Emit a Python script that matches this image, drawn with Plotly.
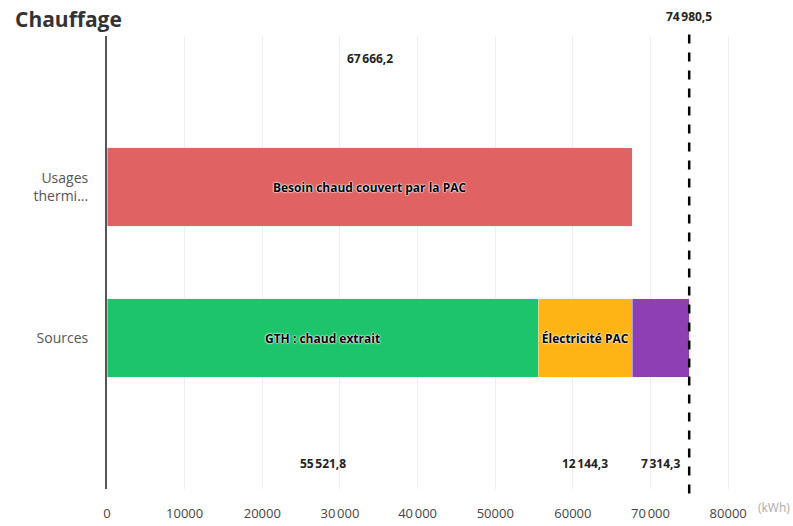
import plotly.graph_objects as go

# Bilan chauffage (kWh)
categories = ["Usages<br>thermi...", "Sources"]
cat_pos = [1, 0]

besoin_pac = 67666.2          # Besoin chaud couvert par la PAC
gth_extrait = 55521.8         # GTH : chaud extrait
elec_pac = 12144.3            # Électricité PAC
complement = 7314.3           # troisième part des sources
total_sources = 74980.5

x_ticks = [0, 10000, 20000, 30000, 40000, 50000, 60000, 70000, 80000]
x_ticklabels = ["0", "10000", "20000", "30\u202f000", "40\u202f000",
                "50000", "60000", "70\u202f000", "80000"]

RED = "#E06262"
GREEN = "#1CC46C"
ORANGE = "#FDB414"
PURPLE = "#8D3FB3"


def fr(v):
    """Nombre au format français : espace fine et virgule décimale."""
    s = f"{v:,.1f}"
    return s.replace(",", "\u202f").replace(".", ",")


label_font = dict(family="Open Sans", size=12, color="black", weight="bold",
                  shadow="0px 0px 2px white, 0px 0px 2px white, 0px 0px 1px white")

fig = go.Figure()

fig.add_bar(y=[cat_pos[0]], x=[besoin_pac], orientation="h", marker_color=RED,
            name="Besoin chaud couvert par la PAC", width=0.52,
            text=["Besoin chaud couvert par la PAC"], textposition="inside",
            insidetextanchor="middle", textfont=label_font)
fig.add_bar(y=[cat_pos[1]], x=[gth_extrait], orientation="h", marker_color=GREEN,
            name="GTH : chaud extrait", width=0.52,
            text=["GTH : chaud extrait"], textposition="inside",
            insidetextanchor="middle", textfont=label_font)
fig.add_bar(y=[cat_pos[1]], x=[elec_pac], orientation="h", marker_color=ORANGE,
            name="Électricité PAC", width=0.52,
            text=["Électricité PAC"], textposition="inside",
            insidetextanchor="middle", textfont=label_font)
fig.add_bar(y=[cat_pos[1]], x=[complement], orientation="h", marker_color=PURPLE,
            name="Complément", width=0.52)

value_font = dict(family="Open Sans", size=12, color="#222", weight="bold")

# valeur au-dessus de la barre des usages
fig.add_annotation(x=besoin_pac / 2, y=cat_pos[0] + 0.85, text=fr(besoin_pac),
                   showarrow=False, font=value_font)

# valeurs sous chaque segment des sources
starts = [0, gth_extrait, gth_extrait + elec_pac]
for start, val in zip(starts, [gth_extrait, elec_pac, complement]):
    fig.add_annotation(x=start + val / 2, y=cat_pos[1] - 0.83, text=fr(val),
                       showarrow=False, font=value_font)

# total des sources : ligne pointillée
fig.add_shape(type="line", x0=total_sources, x1=total_sources, xref="x",
              y0=-0.01, y1=1.012, yref="paper",
              line=dict(color="black", width=2.5, dash="dash"))
fig.add_annotation(x=total_sources, y=1.02, xref="x", yref="paper",
                   text=fr(total_sources), showarrow=False, yanchor="bottom",
                   font=value_font)

# unité de l'axe
fig.add_annotation(x=0.983, y=-0.065, xref="paper", yref="paper", text="(kWh)",
                   xanchor="left", showarrow=False,
                   font=dict(family="Open Sans", size=12, color="#aaa"))

fig.update_layout(
    width=793, height=526,
    margin=dict(l=107, r=26, t=36, b=37),
    barmode="stack",
    showlegend=False,
    plot_bgcolor="white",
    paper_bgcolor="white",
    title=dict(text="<b>Chauffage</b>", x=15 / 793, xanchor="left", xref="container",
               y=1 - 20 / 526, yanchor="middle", yref="container",
               font=dict(family="Open Sans", size=21, color="#333")),
    xaxis=dict(range=[0, 85000], tickvals=x_ticks, ticktext=x_ticklabels,
               showgrid=True, gridcolor="#eeeeee", gridwidth=1, zeroline=False,
               showline=False, ticklabelstandoff=15, automargin=False,
               tickfont=dict(family="Open Sans", size=13, color="#444")),
    yaxis=dict(range=[-1.0, 2.0], tickvals=cat_pos, ticktext=categories,
               showgrid=False, zeroline=False, showline=True, linecolor="#555",
               linewidth=2, ticklabelstandoff=14, automargin=False,
               tickfont=dict(family="Open Sans", size=14, color="#555")),
)

fig.write_html("out.html")
